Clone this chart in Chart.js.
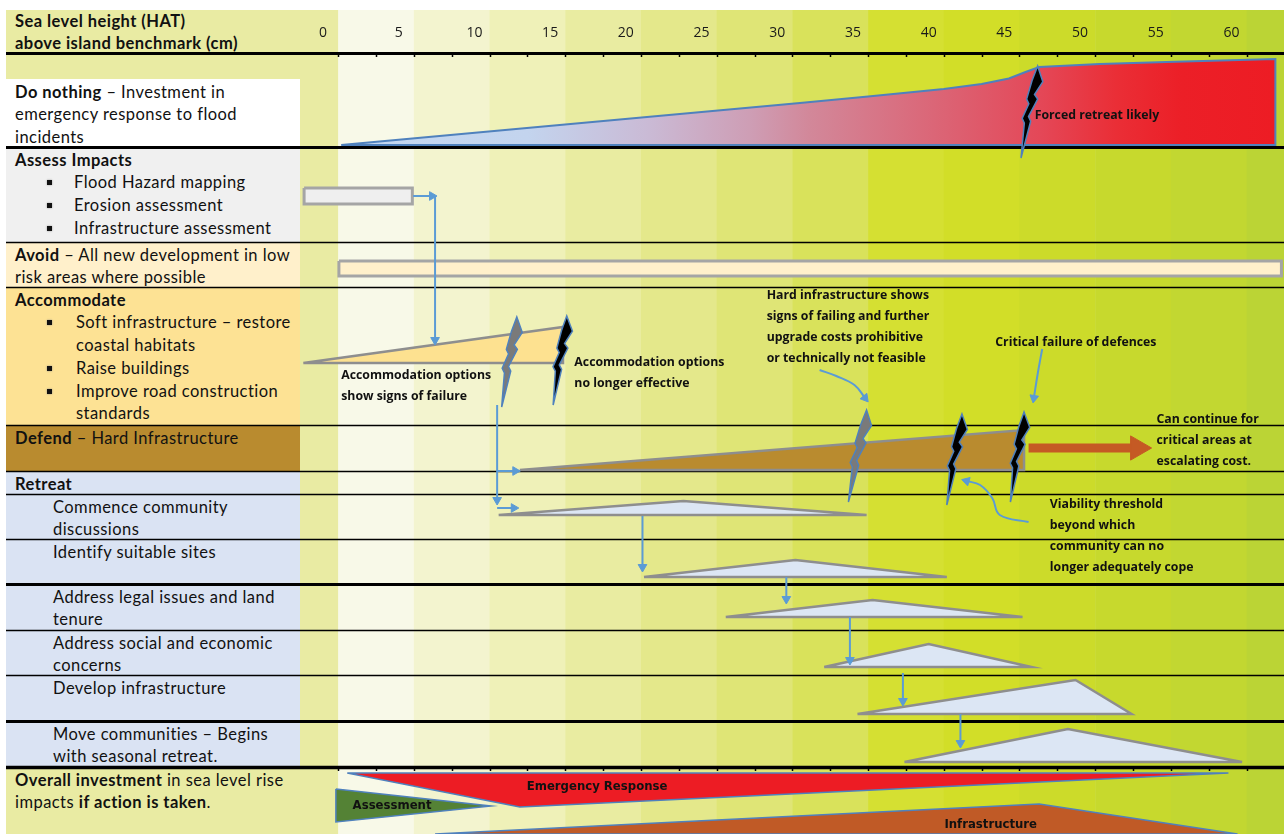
<!DOCTYPE html>
<html>
<head>
<meta charset="utf-8">
<script src="https://cdn.jsdelivr.net/npm/chart.js@4.4.0/dist/chart.umd.min.js"></script>
<style>
  body { margin: 0; background: #fff; }
  #wrap { position: relative; width: 1284px; height: 834px; overflow: hidden; font-family: Lato, "Open Sans", sans-serif; color: #111; }
  #head { position: absolute; left: 6px; top: 10px; width: 294px; height: 43px; background: #e9eba3; box-sizing: border-box; padding: 0 0 0 9px; font-weight: bold; font-size: 16.5px; letter-spacing: 0.45px; line-height: 22px; white-space: nowrap; }
  #labels { position: absolute; left: 6px; top: 53px; width: 294px; }
  .row { box-sizing: border-box; padding: 1.5px 0 0 9px; font-size: 16.5px; letter-spacing: 0.45px; line-height: 22.8px; white-space: nowrap; overflow: hidden; }
  .li, .li2 { position: relative; padding-left: 59px; }
  .li2 { padding-left: 61px; }
  .li::before, .li2::before { content: ''; position: absolute; left: 32px; top: 9px; width: 5px; height: 5px; background: #111; box-shadow: 0 0 2px #888; }
  .sub { padding-left: 38px; }
  canvas { position: absolute; left: 0; top: 0; }
</style>
</head>
<body>
<div id="wrap">
  <div id="head">Sea level height (HAT)<br>above island benchmark (cm)</div>
  <div id="labels"></div>
  <canvas id="chart" width="1284" height="834"></canvas>
</div>
<script>
// sea level axis (cm)
const seaLevelTicks = [0, 5, 10, 15, 20, 25, 30, 35, 40, 45, 50, 55, 60];

// rows of the pathway table, heights in y units
const rowHeights = [26, 68, 95, 45, 138, 46, 23, 45, 45, 46, 45, 46, 46, 67];
const rowLabels = [
  '',
  '<b>Do nothing</b> – Investment in<br>emergency response to flood<br>incidents',
  '<b>Assess Impacts</b><div class="li">Flood Hazard mapping</div><div class="li">Erosion assessment</div><div class="li">Infrastructure assessment</div>',
  '<b>Avoid</b> – All new development in low<br>risk areas where possible',
  '<b>Accommodate</b><div class="li2">Soft infrastructure – restore<br>coastal habitats</div><div class="li2">Raise buildings</div><div class="li2">Improve road construction<br>standards</div>',
  '<b>Defend</b> – Hard Infrastructure',
  '<b>Retreat</b>',
  '<div class="sub">Commence community<br>discussions</div>',
  '<div class="sub">Identify suitable sites</div>',
  '<div class="sub">Address legal issues and land<br>tenure</div>',
  '<div class="sub">Address social and economic<br>concerns</div>',
  '<div class="sub">Develop infrastructure</div>',
  '<div class="sub">Move communities – Begins<br>with seasonal retreat.</div>',
  '<b>Overall investment</b> in sea level rise<br>impacts <b>if action is taken</b>.'
];

// do nothing: emergency response investment (x = sea level cm, y = depth)
const doNothingX = [1.2, 31.5, 36, 41, 43.5, 45.3, 46.4, 47.3, 51.3, 55.7, 62.9, 62.9];
const doNothingY = [92, 50, 43.5, 36, 31, 25.5, 19, 14, 11, 9, 6, 92];

const assessBarX = [-1.25, 5.9];
const assessBarY = [135, 151];
const avoidBarX = [1.05, 63.3];
const avoidBarY = [208, 223];

const accommodateX = [-1.3, 15.85, 15.85];
const accommodateY = [310, 274, 310];
const defendX = [13.0, 46.3, 46.3];
const defendY = [417, 377, 417];

// retreat steps: start, peak, end (cm)
const retreatX = [
  [11.6, 23.8, 35.9],
  [21.2, 31.2, 41.2],
  [26.6, 36.3, 46.2],
  [33.1, 40.0, 46.8],
  [35.3, 49.7, 53.4],
  [38.4, 49.2, 60.7]
];
const retreatBase = [462, 524, 564, 614, 661, 709];
const retreatPeak = [448, 507, 547, 591, 627, 676];

// overall investment
const emergencyX = [1.6, 13.0, 59.8];
const emergencyY = [720, 754, 720];
const assessmentX = [0.85, 11.1, 0.85];
const assessmentY = [736, 753, 769];
const infraX = [7.4, 47.3, 60.4];
const infraY = [781, 751, 781];

// thresholds (lightning): top and tip
const boltTopX = [47.2, 12.8, 16.1, 35.9, 42.2, 46.3];
const boltTopY = [13, 264, 263, 357, 361, 359];
const boltTipX = [46.1, 11.8, 15.2, 34.7, 41.2, 45.4];
const boltTipY = [105, 354, 352, 449, 452, 449];
const boltKind = ['fail', 'warn', 'fail', 'warn', 'fail', 'fail'];

// flow arrows between steps
const flowArrows = [
  [[5.95, 143], [7.2, 143]],
  [[7.4, 143], [7.4, 287]],
  [[11.5, 352], [11.5, 447]],
  [[11.5, 418], [12.7, 418]],
  [[11.5, 455], [12.6, 455]],
  [[21.1, 463], [21.1, 514]],
  [[30.6, 524], [30.6, 546]],
  [[34.8, 564], [34.8, 607]],
  [[38.3, 620], [38.3, 648]],
  [[42.1, 661], [42.1, 690]]
];
const calloutArrows = [
  [[32.8, 317], [33.9, 323], [35.1, 332], [35.8, 345]],
  [[47.5, 296], [47.2, 321], [46.95, 345]],
  [[46.6, 469], [44.7, 462], [44.2, 445], [43.4, 432], [42.5, 428]]
];
const continueArrow = [[46.6, 395], [53.8, 395]];

const notes = [
  { x: 47.0, y: 62, lines: ['Forced retreat likely'] },
  { x: 1.2, y: 322, lines: ['Accommodation options', 'show signs of failure'] },
  { x: 16.6, y: 309, lines: ['Accommodation options', 'no longer effective'] },
  { x: 29.3, y: 242, lines: ['Hard infrastructure shows', 'signs of failing and further', 'upgrade costs prohibitive', 'or technically not feasible'] },
  { x: 44.4, y: 289, lines: ['Critical failure of defences'] },
  { x: 55.05, y: 366, lines: ['Can continue for', 'critical areas at', 'escalating cost.'] },
  { x: 48.0, y: 451, lines: ['Viability threshold', 'beyond which', 'community can no', 'longer adequately cope'] }
];
const investLabels = [
  { x: 18.1, y: 734, text: 'Emergency Response' },
  { x: 4.56, y: 753, text: 'Assessment' },
  { x: 44.1, y: 772, text: 'Infrastructure' }
];

// ---- build table edges + left labels
const edges = [0];
rowHeights.forEach(h => edges.push(edges[edges.length - 1] + h));
const rowFill = ['#e9eba3', '#ffffff', '#f0f0f0', '#fff0cb', '#fde294', '#b98b2f',
  '#dae3f3', '#dae3f3', '#dae3f3', '#dae3f3', '#dae3f3', '#dae3f3', '#dae3f3', '#e9eba3'];
const labelBox = document.getElementById('labels');
rowLabels.forEach((html, i) => {
  const d = document.createElement('div');
  d.className = 'row';
  d.style.height = rowHeights[i] + 'px';
  d.style.background = rowFill[i];
  d.innerHTML = html;
  labelBox.appendChild(d);
});

function pts(xs, ys, close) {
  const p = xs.map((x, i) => ({ x: x, y: ys[i] }));
  if (close) p.push({ x: xs[0], y: ys[0] });
  return p;
}
function rect(xs, ys) {
  return pts([xs[0], xs[1], xs[1], xs[0]], [ys[0], ys[0], ys[1], ys[1]], true);
}

function shape(data, fill, stroke, width) {
  return { data: data, fill: 'shape', backgroundColor: fill, borderColor: stroke, borderWidth: width,
    pointRadius: 0, tension: 0, borderJoinStyle: 'miter' };
}

function headAngle(ctx) {
  const d = ctx.dataset.data;
  const n = d.length;
  const xs = ctx.chart.scales.x, ys = ctx.chart.scales.y;
  const dx = xs.getPixelForValue(d[n - 1].x) - xs.getPixelForValue(d[n - 2].x);
  const dy = ys.getPixelForValue(d[n - 1].y) - ys.getPixelForValue(d[n - 2].y);
  return Math.atan2(dx, -dy) * 180 / Math.PI;
}
function arrow(path, color, width, head, tension) {
  return {
    data: path.map(p => ({ x: p[0], y: p[1] })),
    fill: false, borderColor: color, borderWidth: width, tension: tension || 0,
    pointStyle: 'triangle', pointBackgroundColor: color, pointBorderColor: color, pointBorderWidth: 1,
    pointRadius: ctx => ctx.dataIndex === ctx.dataset.data.length - 1 ? head : 0,
    pointRotation: headAngle
  };
}

function doNothingFill(ctx) {
  const chart = ctx.chart;
  if (!chart.chartArea) return '#d88898';
  const xs = chart.scales.x;
  const g = chart.ctx.createLinearGradient(xs.getPixelForValue(doNothingX[0]), 0, xs.getPixelForValue(doNothingX[doNothingX.length - 1]), 0);
  g.addColorStop(0, '#c4d8f2');
  g.addColorStop(0.2, '#c3d4ee');
  g.addColorStop(0.33, '#cabad5');
  g.addColorStop(0.44, '#ce9db4');
  g.addColorStop(0.5, '#d2889a');
  g.addColorStop(0.65, '#dc6273');
  g.addColorStop(0.75, '#e44757');
  g.addColorStop(0.83, '#ea2e36');
  g.addColorStop(0.9, '#ec1f27');
  g.addColorStop(1, '#ed1c24');
  return g;
}

const stepFill = '#dce6f4';
const grey = '#8e8e8e';
const blue = '#5b9bd5';
const datasets = [];
datasets.push(shape(pts(infraX, infraY, true), '#c05a26', '#4f81bd', 1.5));
datasets.push(shape(pts(assessmentX, assessmentY, true), '#548235', '#4f81bd', 1.5));
datasets.push(shape(pts(emergencyX, emergencyY, true), '#ed1c24', '#4f81bd', 1.5));
datasets.push(shape(pts(doNothingX, doNothingY, true), doNothingFill, '#4f81bd', 2));
datasets.push(shape(rect(assessBarX, assessBarY), '#efefef', '#a5a5a5', 3));
datasets.push(shape(rect(avoidBarX, avoidBarY), '#fff0cb', '#a5a5a5', 3));
datasets.push(shape(pts(accommodateX, accommodateY, true), '#fde190', grey, 2.5));
datasets.push(shape(pts(defendX, defendY, true), '#b98b2f', grey, 2.5));
retreatX.forEach((xs, i) => {
  datasets.push(shape(pts(xs, [retreatBase[i], retreatPeak[i], retreatBase[i]], true), stepFill, grey, 2.5));
});
datasets.push(arrow(continueArrow, '#c55a24', 9, 14));
flowArrows.forEach(a => datasets.push(arrow(a, blue, 2, 5)));
calloutArrows.forEach(a => datasets.push(arrow(a, blue, 2, 5, 0.4)));
datasets.forEach((d, i) => { d.order = -i; });

// background bands, table rules and tick marks
const backdrop = {
  id: 'backdrop',
  beforeDraw(chart) {
    const { ctx, chartArea } = chart;
    const xs = chart.scales.x;
    const colors = ['#e9eba3', '#f8f9e8', '#f3f4cf', '#eff1b8', '#e9eca1', '#e4e88b', '#dfe576',
      '#d9e25b', '#d5e032', '#d2de28', '#ccdb2a', '#c7d92d', '#c2d731', '#bbd435'];
    ctx.save();
    colors.forEach((c, i) => {
      const a = i === 0 ? chartArea.left : xs.getPixelForValue(1 + (i - 1) * 5);
      const b = i === colors.length - 1 ? chartArea.right : xs.getPixelForValue(1 + i * 5);
      ctx.fillStyle = c;
      ctx.fillRect(a, 10, b - a + 0.5, chartArea.bottom - 10);
    });
    ctx.restore();
  },
  beforeDatasetsDraw(chart) {
    const { ctx, chartArea } = chart;
    const xs = chart.scales.x, ys = chart.scales.y;
    const thick = [0, 2, 9, 12, 13];
    ctx.save();
    ctx.strokeStyle = '#000';
    edges.forEach((e, i) => {
      if (i === 1 || i === edges.length - 1) return;
      const y = Math.round(ys.getPixelForValue(e)) + 0.5;
      ctx.lineWidth = thick.includes(i) ? 3 : 1.3;
      if (i === 13) ctx.lineWidth = 3.5;
      ctx.beginPath();
      ctx.moveTo(6, y);
      ctx.lineTo(chartArea.right, y);
      ctx.stroke();
    });
    // small tick marks under header and above overall row
    ctx.lineWidth = 1.5;
    [edges[0], edges[13]].forEach(e => {
      const y = ys.getPixelForValue(e);
      for (let v = 1; v < xs.max; v += 2.5) {
        const x = Math.round(xs.getPixelForValue(v)) + 0.5;
        ctx.beginPath();
        ctx.moveTo(x, y);
        ctx.lineTo(x, y + 4);
        ctx.stroke();
      }
    });
    ctx.restore();
  },
  afterDatasetsDraw(chart) {
    const { ctx } = chart;
    const xs = chart.scales.x, ys = chart.scales.y;
    const boltShape = [[0, 0], [0.17, 8], [0.31, 2], [0.36, 6], [0.55, 0], [0.6, 3], [1, 0],
      [0.62, -3], [0.57, -6], [0.41, -2], [0.36, -5], [0.16, -3]];
    ctx.save();
    boltTopX.forEach((tx, i) => {
      const x0 = xs.getPixelForValue(tx), y0 = ys.getPixelForValue(boltTopY[i]);
      const x1 = xs.getPixelForValue(boltTipX[i]), y1 = ys.getPixelForValue(boltTipY[i]);
      ctx.beginPath();
      boltShape.forEach(([t, off], k) => {
        const px = x0 + (x1 - x0) * t + off, py = y0 + (y1 - y0) * t;
        if (k === 0) ctx.moveTo(px, py); else ctx.lineTo(px, py);
      });
      ctx.closePath();
      ctx.fillStyle = boltKind[i] === 'warn' ? '#7a7a7a' : '#000';
      ctx.fill();
      ctx.strokeStyle = '#4f81bd';
      ctx.lineWidth = 1.5;
      ctx.lineJoin = 'miter';
      ctx.stroke();
    });

    ctx.fillStyle = '#111';
    ctx.textBaseline = 'middle';
    ctx.textAlign = 'left';
    ctx.font = 'bold 12.3px "Open Sans"';
    notes.forEach(n => {
      const x = xs.getPixelForValue(n.x);
      n.lines.forEach((l, k) => ctx.fillText(l, x, ys.getPixelForValue(n.y + k * 21.3)));
    });
    ctx.textAlign = 'center';
    ctx.font = 'bold 13px "Liberation Sans Narrow", "DejaVu Sans Condensed", sans-serif';
    investLabels.forEach(l => ctx.fillText(l.text, xs.getPixelForValue(l.x), ys.getPixelForValue(l.y)));
    ctx.restore();
  }
};

new Chart(document.getElementById('chart'), {
  type: 'line',
  data: { datasets: datasets },
  plugins: [backdrop],
  options: {
    responsive: false,
    animation: false,
    devicePixelRatio: 1,
    layout: { autoPadding: false, padding: { left: 300, top: 10, right: 0, bottom: 0 } },
    plugins: { legend: { display: false }, tooltip: { enabled: false } },
    scales: {
      x: {
        type: 'linear', position: 'top', min: -1.52, max: 63.47,
        afterBuildTicks: s => { s.ticks = seaLevelTicks.map(v => ({ value: v })); },
        afterFit: s => { s.height = 43; },
        grid: { display: false, drawTicks: false },
        border: { display: false },
        ticks: { color: '#1a1a1a', padding: 12, maxRotation: 0, font: { family: 'Open Sans', size: 14 } }
      },
      y: { type: 'linear', reverse: true, min: 0, max: 781, display: false }
    }
  }
});
</script>
</body>
</html>
